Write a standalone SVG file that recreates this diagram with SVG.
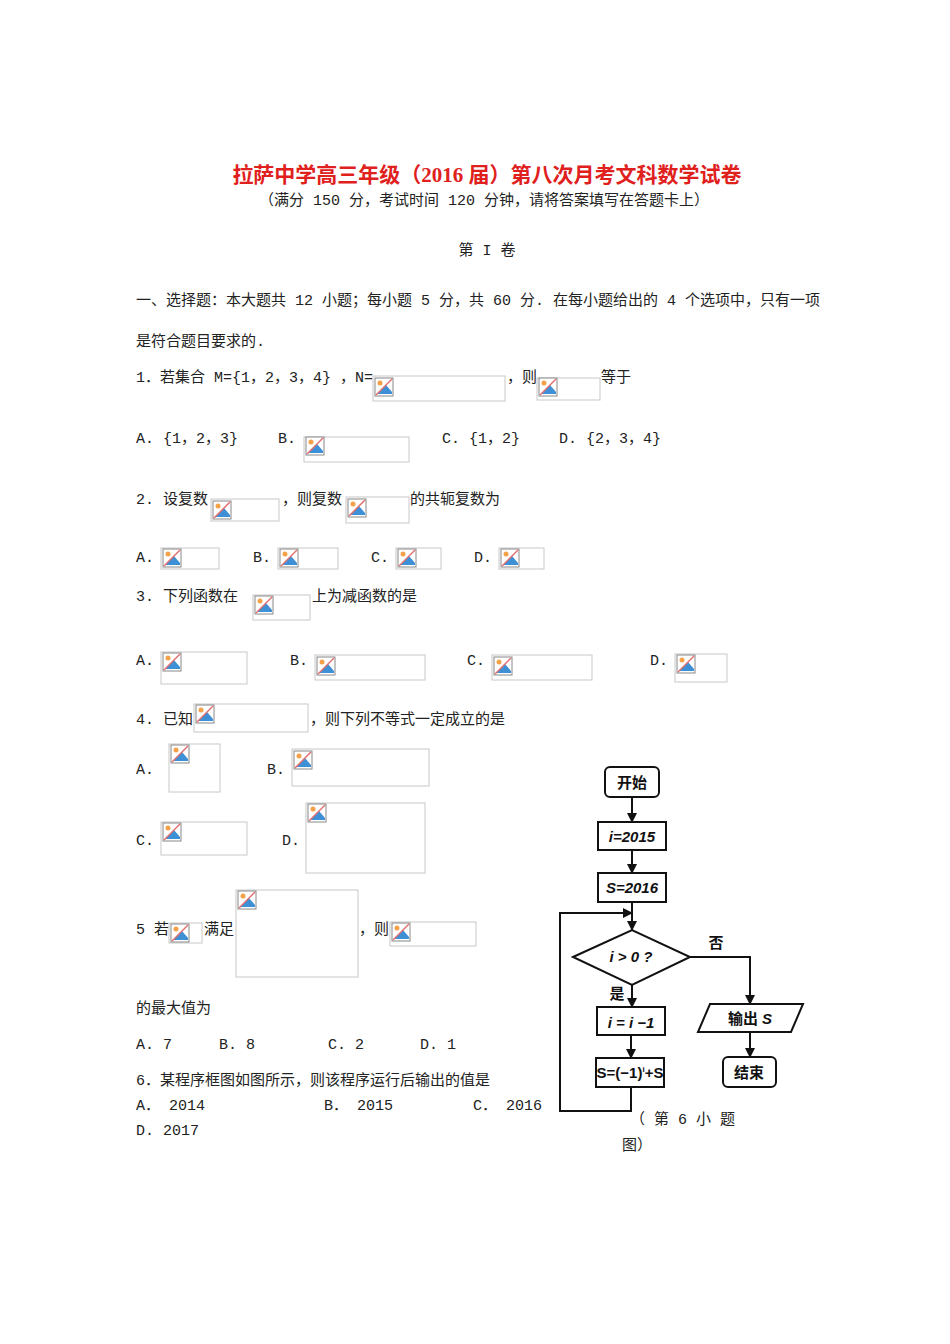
<svg xmlns="http://www.w3.org/2000/svg" width="950" height="1344" viewBox="0 0 950 1344">
<style>
text{font-family:"Liberation Mono","Noto Sans CJK SC",monospace;font-size:15px;fill:#222}
.t{font-family:"Liberation Serif","Noto Sans CJK SC",serif;font-size:21px;font-weight:bold;fill:#e0201c}
.ib{fill:#fff;stroke:#c8c8c8;stroke-width:1}
.fc{fill:#fff;stroke:#111;stroke-width:2}
.ln{fill:none;stroke:#111;stroke-width:2}
.f{font-family:"Liberation Sans","Noto Sans CJK SC",sans-serif;font-weight:bold;font-size:15px;fill:#111;text-anchor:middle}
</style>
<defs>
<g id="ic">
<rect x="2" y="2" width="18" height="18" fill="#fff" stroke="#888" stroke-width="1"/>
<polygon points="4,18 13,9 19,16 19,18" fill="#3d8fd6"/>
<circle cx="7" cy="7" r="2.5" fill="#f4a14a"/>
<line x1="3" y1="19" x2="19" y2="3" stroke="#e07070" stroke-width="1.5"/>
</g>
<marker id="a" markerWidth="10" markerHeight="10" refX="9" refY="5" orient="auto" markerUnits="userSpaceOnUse"><path d="M0,0 L10,5 L0,10 z" fill="#111"/></marker>
</defs>
<text class="t" x="487" y="182" text-anchor="middle">拉萨中学高三年级（2016 届）第八次月考文科数学试卷</text>
<text x="484" y="205" text-anchor="middle">（满分 150 分，考试时间 120 分钟，请将答案填写在答题卡上）</text>
<text x="487" y="255" text-anchor="middle">第 I 卷</text>
<text x="136" y="305">一、选择题：本大题共 12 小题；每小题 5 分，共 60 分. 在每小题给出的 4 个选项中，只有一项</text>
<text x="136" y="346">是符合题目要求的.</text>
<text x="136" y="382">1．若集合 M={1，2，3，4} ，N=</text>
<text x="507" y="382">，则</text>
<text x="601" y="382">等于</text>
<text x="136" y="443">A. {1，2，3}</text><text x="278" y="443">B.</text>
<text x="442" y="443">C. {1，2}</text><text x="559" y="443">D. {2，3，4}</text>
<text x="136" y="504">2. 设复数</text><text x="282" y="504">，则复数</text><text x="410" y="504">的共轭复数为</text>
<text x="136" y="562">A.</text><text x="253" y="562">B.</text><text x="371" y="562">C.</text><text x="474" y="562">D.</text>
<text x="136" y="601">3.  下列函数在</text><text x="312" y="601">上为减函数的是</text>
<text x="136" y="665">A.</text><text x="290" y="665">B.</text><text x="467" y="665">C.</text><text x="650" y="665">D.</text>
<text x="136" y="724">4. 已知</text><text x="310" y="724">，则下列不等式一定成立的是</text>
<text x="136" y="774">A.</text><text x="267" y="774">B.</text>
<text x="136" y="845">C.</text><text x="282" y="845">D.</text>
<text x="136" y="934">5 若</text><text x="204" y="934">满足</text><text x="359" y="934">，则</text>
<text x="136" y="1013">的最大值为</text>
<text x="136" y="1049">A. 7</text><text x="219" y="1049">B. 8</text><text x="328" y="1049">C. 2</text><text x="420" y="1049">D. 1</text>
<text x="136" y="1085">6．某程序框图如图所示，则该程序运行后输出的值是</text>
<text x="136" y="1110">A． 2014</text><text x="324" y="1110">B． 2015</text><text x="473" y="1110">C． 2016</text>
<text x="136" y="1135">D. 2017</text>
<g id="imgs">
<rect class="ib" x="373" y="376" width="132" height="25"/><use href="#ic" x="373" y="376"/>
<rect class="ib" x="537" y="378" width="63" height="22"/><use href="#ic" x="537" y="376"/>
<rect class="ib" x="304" y="437" width="105" height="25"/><use href="#ic" x="304" y="435"/>
<rect class="ib" x="211" y="499" width="68" height="22"/><use href="#ic" x="211" y="499"/>
<rect class="ib" x="346" y="497" width="63" height="26"/><use href="#ic" x="346" y="497"/>
<rect class="ib" x="161" y="548" width="58" height="21"/><use href="#ic" x="161" y="547"/>
<rect class="ib" x="278" y="548" width="60" height="21"/><use href="#ic" x="278" y="547"/>
<rect class="ib" x="396" y="548" width="45" height="21"/><use href="#ic" x="396" y="547"/>
<rect class="ib" x="499" y="548" width="45" height="21"/><use href="#ic" x="499" y="547"/>
<rect class="ib" x="253" y="595" width="57" height="25"/><use href="#ic" x="253" y="594"/>
<rect class="ib" x="161" y="652" width="86" height="32"/><use href="#ic" x="161" y="651"/>
<rect class="ib" x="315" y="655" width="110" height="25"/><use href="#ic" x="315" y="655"/>
<rect class="ib" x="492" y="655" width="100" height="25"/><use href="#ic" x="492" y="655"/>
<rect class="ib" x="675" y="654" width="52" height="28"/><use href="#ic" x="675" y="653"/>
<rect class="ib" x="194" y="704" width="114" height="28"/><use href="#ic" x="194" y="703"/>
<rect class="ib" x="169" y="744" width="51" height="48"/><use href="#ic" x="169" y="743"/>
<rect class="ib" x="292" y="749" width="137" height="37"/><use href="#ic" x="292" y="749"/>
<rect class="ib" x="161" y="822" width="86" height="33"/><use href="#ic" x="161" y="821"/>
<rect class="ib" x="306" y="803" width="119" height="70"/><use href="#ic" x="306" y="802"/>
<rect class="ib" x="169" y="923" width="33" height="20"/><use href="#ic" x="169" y="922"/>
<rect class="ib" x="236" y="890" width="122" height="87"/><use href="#ic" x="236" y="889"/>
<rect class="ib" x="390" y="922" width="86" height="24"/><use href="#ic" x="390" y="921"/>
</g>
<g id="connectors">
<line class="ln" x1="632" y1="797" x2="632" y2="822" marker-end="url(#a)"/>
<line class="ln" x1="632" y1="850" x2="632" y2="873" marker-end="url(#a)"/>
<line class="ln" x1="632" y1="902" x2="632" y2="930" marker-end="url(#a)"/>
<line class="ln" x1="632" y1="985" x2="632" y2="1007" marker-end="url(#a)"/>
<line class="ln" x1="631" y1="1035" x2="631" y2="1058" marker-end="url(#a)"/>
<polyline class="ln" points="631,1087 631,1111 560,1111 560,913 632,913" marker-end="url(#a)"/>
<polyline class="ln" points="690,957 750,957 750,1004" marker-end="url(#a)"/>
<line class="ln" x1="750" y1="1032" x2="750" y2="1057" marker-end="url(#a)"/>
</g>
<g id="start"><rect class="fc" x="605" y="767" width="54" height="30" rx="5"/><text class="f" x="632" y="788">开始</text></g>
<g id="i2015"><rect class="fc" x="598" y="822" width="68" height="28"/><text class="f" x="632" y="842" font-style="italic" font-size="14">i=2015</text></g>
<g id="s2016"><rect class="fc" x="598" y="873" width="68" height="29"/><text class="f" x="632" y="893" font-style="italic" font-size="14">S=2016</text></g>
<g id="cond"><polygon class="fc" points="573,957 632,930 690,957 632,985"/><text class="f" x="631" y="962" font-style="italic" font-weight="normal">i &gt; 0 ?</text></g>
<g id="dec"><rect class="fc" x="597" y="1007" width="68" height="28"/><text class="f" x="631" y="1028" font-style="italic">i = i −1</text></g>
<g id="sum"><rect class="fc" x="596" y="1058" width="68" height="29"/><text class="f" x="630" y="1078" font-size="13">S=(−1)<tspan font-size="8" dy="-6">i</tspan><tspan dy="6">+S</tspan></text></g>
<g id="out"><polygon class="fc" points="710,1004 803,1004 791,1032 698,1032"/><text class="f" x="750" y="1024">输出 <tspan font-style="italic">S</tspan></text></g>
<g id="end"><rect class="fc" x="723" y="1057" width="53" height="30" rx="5"/><text class="f" x="749" y="1078">结束</text></g>
<text class="f" x="716" y="948" font-weight="normal">否</text>
<text class="f" x="617" y="999">是</text>
<text x="630" y="1124">（ 第 6 小 题</text>
<text x="622" y="1150">图）</text>
</svg>
